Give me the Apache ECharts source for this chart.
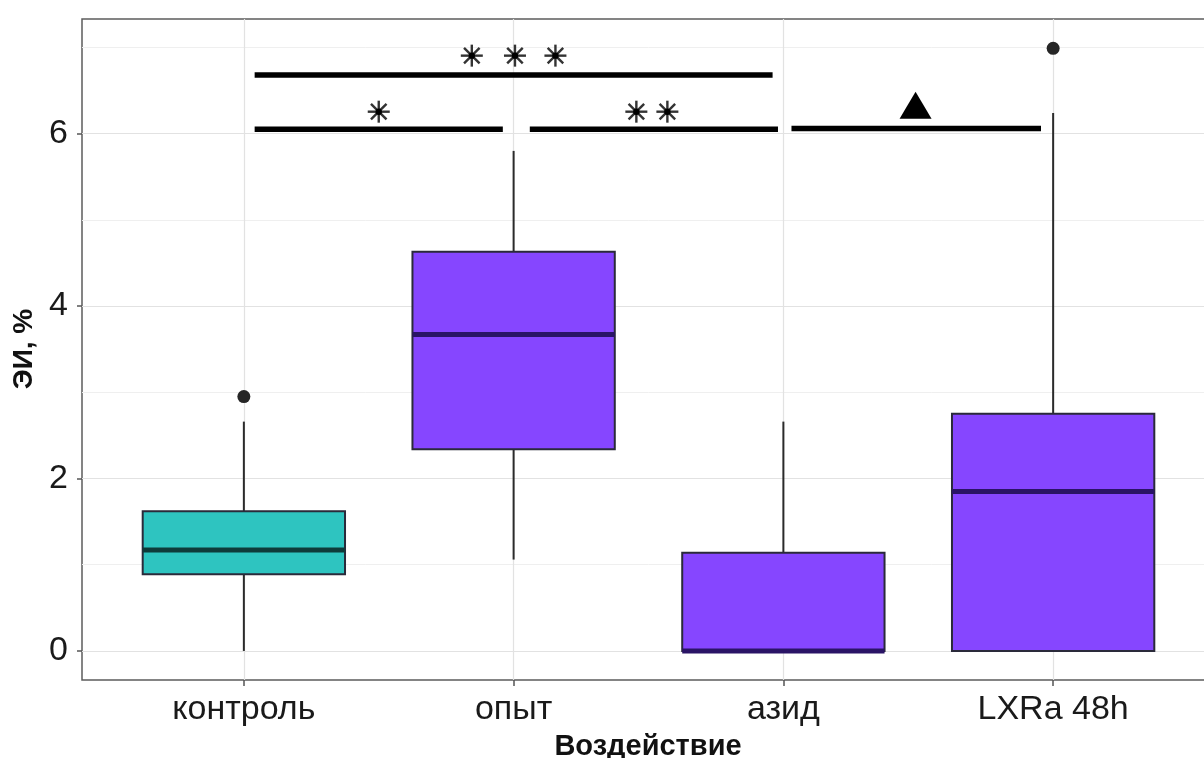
<!DOCTYPE html>
<html>
<head>
<meta charset="utf-8">
<script src="https://cdn.jsdelivr.net/npm/echarts@6/dist/echarts.min.js"></script>
<style>html,body{margin:0;padding:0;background:#fff;overflow:hidden;width:1204px;height:758px;}#c{width:1240px;height:758px;}</style>
</head>
<body>
<div id="c"></div>
<script>
// ---- data ----
const categories = ['контроль', 'опыт', 'азид', 'LXRa 48h'];
const whiskerLow  = [0.00, 1.06, 0.00, 0.00];
const q1          = [0.89, 2.34, 0.00, 0.00];
const median      = [1.17, 3.67, 0.00, 1.85];
const q3          = [1.62, 4.63, 1.14, 2.75];
const whiskerHigh = [2.66, 5.80, 2.66, 6.24];
const outliers = [[1, 2.95], [4, 6.99]];
const yTicks = [0, 2, 4, 6];
const yMinorTicks = [1, 3, 5, 7];
// significance brackets: [x start, x end, y]
const sigBars = [[1.04, 1.96, 6.05], [2.06, 2.98, 6.05], [3.03, 3.955, 6.06], [1.04, 2.96, 6.68]];
const starMarks = [[1.50, 6.255], [2.455, 6.255], [2.57, 6.255], [1.845, 6.905], [2.005, 6.905], [2.155, 6.905]];
const triangleMarks = [[3.49, 6.33]];
const fills = ['#2EC4C0', '#8646FF', '#8646FF', '#8646FF'];
const medianColors = ['#0E3B3A', '#2A1466', '#2A1466', '#2A1466'];

const boxData = categories.map((c, i) => [i + 1, whiskerLow[i], q1[i], median[i], q3[i], whiskerHigh[i]]);

const chart = echarts.init(document.getElementById('c'), null, {renderer: 'canvas'});
const FONT = '"Liberation Sans", Arial, sans-serif';
const halfW = 0.375;

chart.setOption({
  backgroundColor: '#ffffff',
  animation: false,
  grid: {left: 82, top: 19, width: 1133, height: 661, show: true, borderColor: '#5c5c5c', borderWidth: 1.5, backgroundColor: 'transparent'},
  xAxis: {
    type: 'value', min: 0.4, max: 4.6,
    axisLine: {show: false, onZero: false},
    axisTick: {show: true, customValues: [1, 2, 3, 4], length: 6, lineStyle: {color: '#555', width: 1.5}},
    axisLabel: {customValues: [1, 2, 3, 4], formatter: v => categories[Math.round(v) - 1], fontSize: 34, color: '#1a1a1a', fontFamily: FONT, margin: 13},
    splitLine: {show: true, lineStyle: {color: '#e2e2e2', width: 1.2}}
  },
  yAxis: [{
    type: 'value', min: -0.337, max: 7.33,
    axisLine: {show: false, onZero: false},
    axisTick: {show: true, customValues: yTicks, length: 5, lineStyle: {color: '#555', width: 1.5}},
    axisLabel: {customValues: yTicks, fontSize: 34, color: '#1a1a1a', fontFamily: FONT, margin: 14, padding: [4, 0, 0, 0]},
    splitLine: {show: true, lineStyle: {color: '#e2e2e2', width: 1.2}}
  }, {
    type: 'value', min: -0.337, max: 7.33, position: 'right',
    axisLine: {show: false, onZero: false},
    axisTick: {show: false, customValues: yMinorTicks},
    axisLabel: {show: false, customValues: yMinorTicks},
    splitLine: {show: true, lineStyle: {color: '#efefef', width: 1}}
  }],
  graphic: [
    {type: 'text', x: 648, y: 747, style: {text: 'Воздействие', font: 'bold 29px ' + FONT, fill: '#111', textAlign: 'center', textVerticalAlign: 'middle'}},
    {type: 'text', x: 24, y: 349, rotation: Math.PI / 2, style: {text: 'ЭИ, %', font: 'bold 28px ' + FONT, fill: '#111', textAlign: 'center', textVerticalAlign: 'middle'}}
  ],
  series: [
    {
      type: 'custom', name: 'box', z: 5,
      data: boxData,
      encode: {x: 0, y: [1, 2, 3, 4, 5]},
      renderItem: function (params, api) {
        const x = api.value(0);
        const i = params.dataIndex;
        const pLow = api.coord([x, api.value(1)]);
        const pQ1 = api.coord([x, api.value(2)]);
        const pMed = api.coord([x, api.value(3)]);
        const pQ3 = api.coord([x, api.value(4)]);
        const pHigh = api.coord([x, api.value(5)]);
        const left = api.coord([x - halfW, 0])[0];
        const right = api.coord([x + halfW, 0])[0];
        return {
          type: 'group',
          children: [
            {type: 'line', shape: {x1: pQ3[0], y1: pQ3[1], x2: pHigh[0], y2: pHigh[1]}, style: {stroke: '#2b2b2b', lineWidth: 2}},
            {type: 'line', shape: {x1: pLow[0], y1: pLow[1], x2: pQ1[0], y2: pQ1[1]}, style: {stroke: '#2b2b2b', lineWidth: 2}},
            {type: 'rect', shape: {x: left, y: pQ3[1], width: right - left, height: pQ1[1] - pQ3[1]}, style: {fill: fills[i], stroke: '#2a2a3a', lineWidth: 2}},
            {type: 'line', shape: {x1: left, y1: pMed[1], x2: right, y2: pMed[1]}, style: {stroke: medianColors[i], lineWidth: 5}}
          ]
        };
      }
    },
    {
      type: 'scatter', name: 'outliers', z: 6,
      data: outliers, symbol: 'circle', symbolSize: 13,
      itemStyle: {color: '#262626', opacity: 1}
    },
    {
      type: 'custom', name: 'sig', z: 7,
      data: sigBars,
      encode: {x: [0, 1], y: 2},
      renderItem: function (params, api) {
        const a = api.coord([api.value(0), api.value(2)]);
        const b = api.coord([api.value(1), api.value(2)]);
        return {type: 'line', shape: {x1: a[0], y1: a[1], x2: b[0], y2: b[1]}, style: {stroke: '#000', lineWidth: 5.5, lineCap: 'butt'}};
      }
    },
    {
      type: 'custom', name: 'stars', z: 7,
      data: starMarks,
      encode: {x: 0, y: 1},
      renderItem: function (params, api) {
        const p = api.coord([api.value(0), api.value(1)]);
        const r = 11;
        const kids = [];
        for (let k = 0; k < 4; k++) {
          const ang = k * Math.PI / 4;
          const dx = r * Math.cos(ang), dy = r * Math.sin(ang);
          kids.push({type: 'line', shape: {x1: p[0] - dx, y1: p[1] - dy, x2: p[0] + dx, y2: p[1] + dy}, style: {stroke: '#333', lineWidth: 2.4}});
        }
        kids.push({type: 'circle', shape: {cx: p[0], cy: p[1], r: 3.2}, style: {fill: '#000'}});
        return {type: 'group', children: kids};
      }
    },
    {
      type: 'scatter', name: 'triangle', z: 7,
      data: triangleMarks, symbol: 'triangle', symbolSize: [32, 27],
      itemStyle: {color: '#000', opacity: 1}
    }
  ]
});
</script>
</body>
</html>
